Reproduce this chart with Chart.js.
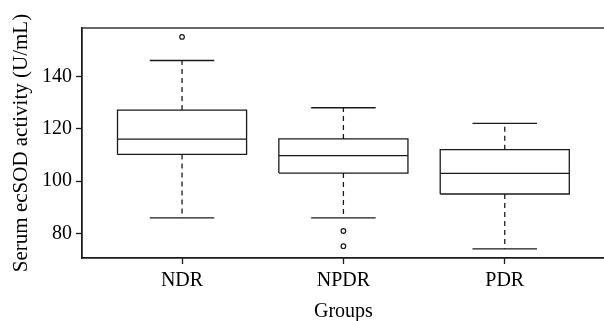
<!DOCTYPE html>
<html>
<head>
<meta charset="utf-8">
<script src="https://cdn.jsdelivr.net/npm/chart.js@4/dist/chart.umd.min.js"></script>
<style>
  html, body { margin: 0; padding: 0; background: #fff; overflow: hidden; }
  #wrap { position: relative; width: 610px; height: 324px; }
</style>
</head>
<body>
<div id="wrap"><canvas id="chart"></canvas></div>
<script>
// box plot statistics
const groups = ["NDR", "NPDR", "PDR"]
const lowerWhisker = [86, 86, 74.2]
const q1 = [110.2, 103.1, 95.1]
const median = [116, 109.7, 103]
const q3 = [127.1, 116.1, 112]
const upperWhisker = [146, 128, 122]
const outliers = [[155], [81, 75.2], []]
const yTicks = [80, 100, 120, 140]

const boxHalf = 0.4
const capHalf = 0.2
const ink = "#1a1a1a"
const serif = "'Liberation Serif', 'Times New Roman', serif"

function lineSet(points, dash) {
    return {
        type: "scatter",
        data: points,
        showLine: true,
        borderColor: ink,
        borderWidth: 1.3,
        borderDash: dash || [],
        pointRadius: 0,
        fill: false
    }
}

let datasets = []
for (let i = 0; i < groups.length; i++) {
    let c = i + 1
    // box
    datasets.push(lineSet([
        {x: c - boxHalf, y: q1[i]}, {x: c + boxHalf, y: q1[i]},
        {x: c + boxHalf, y: q3[i]}, {x: c - boxHalf, y: q3[i]},
        {x: c - boxHalf, y: q1[i]}
    ]))
    // median
    datasets.push(lineSet([{x: c - boxHalf, y: median[i]}, {x: c + boxHalf, y: median[i]}]))
    // whiskers
    datasets.push(lineSet([{x: c, y: q3[i]}, {x: c, y: upperWhisker[i]}], [5, 4]))
    datasets.push(lineSet([{x: c, y: q1[i]}, {x: c, y: lowerWhisker[i]}], [5, 4]))
    // caps
    datasets.push(lineSet([{x: c - capHalf, y: upperWhisker[i]}, {x: c + capHalf, y: upperWhisker[i]}]))
    datasets.push(lineSet([{x: c - capHalf, y: lowerWhisker[i]}, {x: c + capHalf, y: lowerWhisker[i]}]))
    // outliers
    if (outliers[i].length) {
        datasets.push({
            type: "scatter",
            data: outliers[i].map(v => ({x: c, y: v})),
            pointStyle: "circle",
            pointRadius: 2.3,
            pointBorderWidth: 1.2,
            pointBorderColor: ink,
            pointBackgroundColor: "#fff",
            showLine: false
        })
    }
}

const frame = {
    id: "frame",
    afterDraw(chart) {
        let a = chart.chartArea
        let ctx = chart.ctx
        ctx.save()
        ctx.strokeStyle = ink
        ctx.lineWidth = 1.3
        ctx.strokeRect(a.left, a.top, a.right - a.left, a.bottom - a.top)
        ctx.restore()
    }
}

new Chart(document.querySelector("#chart"), {
    type: "scatter",
    data: { datasets },
    options: {
        animation: false,
        responsive: true,
        maintainAspectRatio: false,
        layout: { padding: { top: 28, right: 2, left: 0, bottom: 0 } },
        plugins: { legend: { display: false }, tooltip: { enabled: false } },
        scales: {
            x: {
                type: "linear",
                min: 0.38,
                max: 3.62,
                afterBuildTicks: s => { s.ticks = groups.map((g, i) => ({value: i + 1})) },
                afterFit: s => { s.height = 66 },
                ticks: {
                    callback: (v, i) => groups[i],
                    color: "#000",
                    font: { family: serif, size: 20 },
                    padding: 5,
                    maxRotation: 0
                },
                grid: { drawOnChartArea: false, tickLength: 6, tickColor: ink, tickWidth: 1.3 },
                border: { display: true, color: ink, width: 1.3 },
                title: {
                    display: true,
                    text: "Groups",
                    color: "#000",
                    font: { family: serif, size: 20 },
                    padding: { top: 0, bottom: 0 }
                }
            },
            y: {
                min: 70.7,
                max: 158.4,
                afterBuildTicks: s => { s.ticks = yTicks.map(v => ({value: v})) },
                afterFit: s => { s.width = 82 },
                ticks: {
                    color: "#000",
                    font: { family: serif, size: 20 },
                    padding: 4
                },
                grid: { drawOnChartArea: false, tickLength: 6, tickColor: ink, tickWidth: 1.3 },
                border: { display: true, color: ink, width: 1.3 },
                title: {
                    display: true,
                    text: "Serum ecSOD activity (U/mL)",
                    color: "#000",
                    font: { family: serif, size: 21 },
                    padding: { top: 9, bottom: 0 }
                }
            }
        }
    },
    plugins: [frame]
})
</script>
</body>
</html>
